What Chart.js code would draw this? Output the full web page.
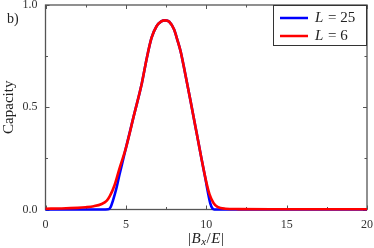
<!DOCTYPE html>
<html lang="en">
<head>
    <meta charset="UTF-8">
    <title>Capacity vs |Bx/E|</title>
    <script src="https://cdn.jsdelivr.net/npm/chart.js"></script>
    <style>
        html, body { margin: 0; padding: 0; background: #fff; }
        #wrap { width: 374px; height: 248px; position: relative; }
    </style>
</head>
<body>
<div id="wrap"><canvas id="capChart"></canvas></div>
<script>
// values
const xL25 = [0, 2, 3.5, 3.9, 4.05, 4.2, 4.4, 4.6, 4.8, 5.0, 5.5, 6.0, 6.3, 6.6, 6.9, 7.2, 7.45, 7.7, 8.0, 8.2, 8.4, 8.6, 9.0, 9.4, 9.7, 9.95, 10.1, 10.25, 10.38, 10.5, 12, 20];
const yL25 = [0, 0, 0, 0.001, 0.012, 0.045, 0.1, 0.17, 0.235, 0.3, 0.46, 0.62, 0.74, 0.84, 0.895, 0.92, 0.925, 0.918, 0.88, 0.83, 0.775, 0.7, 0.54, 0.375, 0.25, 0.15, 0.085, 0.03, 0.006, 0, 0, 0];

const xL6 = [0, 1, 2, 2.5, 3.0, 3.5, 3.8, 4.0, 4.3, 4.6, 5.0, 5.5, 6.0, 6.3, 6.6, 6.9, 7.2, 7.45, 7.7, 8.0, 8.2, 8.4, 8.6, 9.0, 9.4, 9.7, 10.0, 10.2, 10.45, 10.7, 11.2, 12, 14, 20];
const yL6 = [0.004, 0.005, 0.008, 0.011, 0.016, 0.027, 0.042, 0.065, 0.12, 0.2, 0.3, 0.46, 0.62, 0.74, 0.84, 0.895, 0.92, 0.925, 0.918, 0.88, 0.83, 0.775, 0.7, 0.54, 0.375, 0.25, 0.135, 0.075, 0.032, 0.013, 0.004, 0.002, 0.001, 0.001];

const seriesLabels = ['25', '6'];
const seriesColors = ['#0000ff', '#ff0000'];
const xTicks = [0, 5, 10, 15, 20];
const yTicks = [0, 0.5, 1.0];

function pts(xs, ys) {
    return xs.map((x, i) => ({ x: x, y: ys[i] }));
}

const serif = '"Liberation Serif", "DejaVu Serif", serif';
const axisColor = '#555';

// frame with inward ticks, drawn under the curves
const framePlugin = {
    id: 'frame',
    beforeDatasetsDraw(chart) {
        const ctx = chart.ctx;
        const a = chart.chartArea;
        const xs = chart.scales.x, ys = chart.scales.y;
        ctx.save();
        ctx.strokeStyle = axisColor;
        ctx.lineWidth = 1.3;
        ctx.strokeRect(a.left, a.top, a.right - a.left, a.bottom - a.top);
        ctx.lineWidth = 1;
        for (let v = 0; v <= 20; v += 2.5) {
            const px = Math.round(xs.getPixelForValue(v)) + 0.5;
            const len = (v % 5 === 0) ? 4 : 2.5;
            ctx.beginPath();
            ctx.moveTo(px, a.bottom); ctx.lineTo(px, a.bottom - len);
            ctx.moveTo(px, a.top); ctx.lineTo(px, a.top + len);
            ctx.stroke();
        }
        for (let v = 0; v <= 1.0001; v += 0.25) {
            const py = Math.round(ys.getPixelForValue(v)) + 0.5;
            const len = (Math.abs(v * 2 - Math.round(v * 2)) < 1e-6) ? 4 : 2.5;
            ctx.beginPath();
            ctx.moveTo(a.left, py); ctx.lineTo(a.left + len, py);
            ctx.moveTo(a.right, py); ctx.lineTo(a.right - len, py);
            ctx.stroke();
        }
        ctx.restore();
    },
    afterDraw(chart) {
        const ctx = chart.ctx;
        const a = chart.chartArea;
        ctx.save();
        ctx.fillStyle = '#222';
        ctx.textBaseline = 'middle';

        // panel label
        ctx.font = '14px ' + serif;
        ctx.textAlign = 'left';
        ctx.fillText('b)', 7, 19);

        // y title
        ctx.save();
        ctx.translate(9, (a.top + a.bottom) / 2);
        ctx.rotate(-Math.PI / 2);
        ctx.textAlign = 'center';
        ctx.font = '15px ' + serif;
        ctx.fillText('Capacity', 0, 0);
        ctx.restore();

        // x title |B_x/E|
        const parts = [
            ['|', '15px ' + serif, 0],
            ['B', 'italic 15px ' + serif, 0],
            ['x', 'italic 11px ' + serif, 3],
            ['/', '15px ' + serif, 0],
            ['E', 'italic 15px ' + serif, 0],
            ['|', '15px ' + serif, 0]
        ];
        let total = 0;
        parts.forEach(p => { ctx.font = p[1]; total += ctx.measureText(p[0]).width + 0.5; });
        let x = (a.left + a.right) / 2 - total / 2;
        ctx.textAlign = 'left';
        parts.forEach(p => {
            ctx.font = p[1];
            ctx.fillText(p[0], x, 239 + p[2]);
            x += ctx.measureText(p[0]).width + 0.5;
        });

        // legend box
        const bx = 273, by = a.top, bw = a.right - 273, bh = 41;
        ctx.fillStyle = '#fff';
        ctx.fillRect(bx, by, bw, bh);
        ctx.strokeStyle = '#333';
        ctx.lineWidth = 1;
        ctx.strokeRect(bx + 0.5, by + 0.5, bw - 1, bh - 1);
        seriesLabels.forEach((lab, i) => {
            const ly = by + 13 + i * 18;
            ctx.strokeStyle = seriesColors[i];
            ctx.lineWidth = 2.5;
            ctx.beginPath();
            ctx.moveTo(280, ly); ctx.lineTo(308, ly);
            ctx.stroke();
            ctx.fillStyle = '#222';
            ctx.font = 'italic 15px ' + serif;
            ctx.fillText('L', 315, ly);
            const w = ctx.measureText('L').width;
            ctx.font = '15px ' + serif;
            ctx.fillText(' = ' + lab, 315 + w + 1, ly);
        });
        ctx.restore();
    }
};

const config = {
    type: 'line',
    data: {
        datasets: [
            {
                label: 'L = ' + seriesLabels[0],
                data: pts(xL25, yL25),
                borderColor: seriesColors[0],
                borderWidth: 2.6,
                pointRadius: 0,
                cubicInterpolationMode: 'monotone',
                clip: 4,
                order: 1
            },
            {
                label: 'L = ' + seriesLabels[1],
                data: pts(xL6, yL6),
                borderColor: seriesColors[1],
                borderWidth: 2.6,
                pointRadius: 0,
                cubicInterpolationMode: 'monotone',
                clip: 4,
                order: 0
            }
        ]
    },
    options: {
        responsive: true,
        maintainAspectRatio: false,
        animation: false,
        layout: { padding: { top: 5, right: 7, left: 0, bottom: 0 } },
        plugins: { legend: { display: false }, tooltip: { enabled: false } },
        scales: {
            x: {
                type: 'linear',
                min: 0, max: 20,
                grid: { display: false, drawTicks: false },
                border: { display: false },
                afterBuildTicks(s) { s.ticks = xTicks.map(v => ({ value: v })); },
                afterFit(s) { s.height = 38.5; s.paddingLeft = 0; s.paddingRight = 0; },
                ticks: {
                    padding: 8,
                    color: '#333',
                    maxRotation: 0,
                    font: { family: serif, size: 12 },
                    callback: v => String(v)
                }
            },
            y: {
                min: 0, max: 1,
                grid: { display: false, drawTicks: false },
                border: { display: false },
                afterBuildTicks(s) { s.ticks = yTicks.map(v => ({ value: v })); },
                afterFit(s) { s.width = 45.5; s.paddingTop = 0; s.paddingBottom = 0; },
                ticks: {
                    padding: 8,
                    color: '#333',
                    font: { family: serif, size: 12 },
                    callback: v => v.toFixed(1)
                }
            }
        }
    },
    plugins: [framePlugin]
};

new Chart(document.getElementById('capChart'), config);
</script>
</body>
</html>
